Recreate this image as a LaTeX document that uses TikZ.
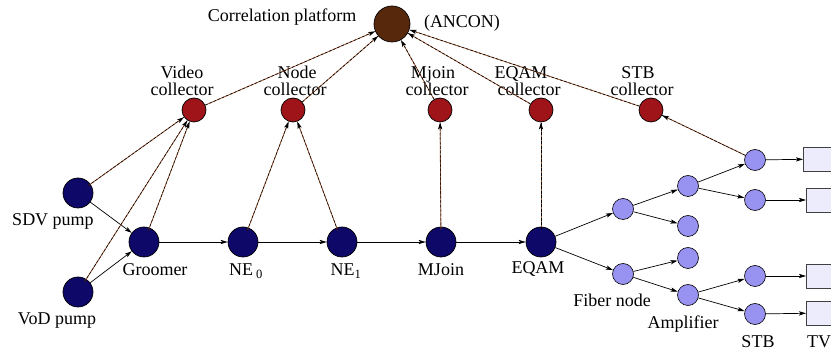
\documentclass[tikz,border=0pt]{standalone}
\usepackage{fontspec}
\setmainfont{Liberation Serif}
\usetikzlibrary{arrows.meta,calc}
\definecolor{navyn}{RGB}{14,8,105}
\definecolor{collred}{RGB}{158,20,24}
\definecolor{corrbrown}{RGB}{88,40,12}
\definecolor{lav}{RGB}{152,146,240}
\definecolor{tvfill}{RGB}{236,236,252}
\definecolor{linebrown}{RGB}{150,80,45}
\begin{document}
\begin{tikzpicture}[x=1pt,y=-1pt,
  big/.style={circle,draw=black,line width=0.7pt,fill=navyn,minimum size=30pt,inner sep=0pt},
  coll/.style={circle,draw=black,line width=0.7pt,fill=collred,minimum size=24pt,inner sep=0pt},
  corrnode/.style={circle,draw=black,line width=0.7pt,fill=corrbrown,minimum size=36pt,inner sep=0pt},
  small/.style={circle,draw=black,line width=0.6pt,fill=lav,minimum size=21pt,inner sep=0pt},
  tvbox/.style={rectangle,draw=black!75,line width=0.7pt,fill=tvfill,minimum width=40pt,minimum height=24pt,anchor=west,inner sep=0pt},
  lbl/.style={font=\fontsize{18}{20}\selectfont,inner sep=0pt,anchor=base},
  flow/.style={draw=black,line width=0.7pt,-{Stealth[length=7pt,width=4.2pt,inset=1.5pt]}},
  report/.style={draw=linebrown,line width=0.8pt,-{Stealth[length=7pt,width=4.2pt,inset=1.5pt,black]},
    postaction={draw=black,line width=0.6pt,dash pattern=on 2.5pt off 2pt,arrows=-}},
  feed/.style={draw=linebrown,line width=0.8pt,-{Stealth[length=7pt,width=4.2pt,inset=1.5pt,black]},
    postaction={draw=black,line width=0.5pt,dash pattern=on 3pt off 1.5pt,arrows=-}}]
\useasboundingbox (0,0) rectangle (831,355);
\clip (0,0) rectangle (831,355);
% nodes
\node[corrnode] (corr) at (392,24) {};
\node[coll] (cvid) at (194,110) {};
\node[coll] (cnode) at (293,110) {};
\node[coll] (cmj) at (440,110) {};
\node[coll] (ceq) at (541,110) {};
\node[coll] (cstb) at (651,110) {};
\node[big] (sdv) at (78,193) {};
\node[big] (vod) at (78,292) {};
\node[big] (groom) at (144,242) {};
\node[big] (ne0) at (243,242) {};
\node[big] (ne1) at (342,242) {};
\node[big] (mj) at (441,242) {};
\node[big] (eq) at (541,242) {};
\node[small] (f1) at (623,209) {};
\node[small] (f2) at (623,274) {};
\node[small] (a1) at (688,186) {};
\node[small] (a2) at (688,226) {};
\node[small] (a3) at (688,258) {};
\node[small] (a4) at (688,295) {};
\node[small] (s1) at (755,160) {};
\node[small] (s2) at (755,200) {};
\node[small] (s3) at (755,276) {};
\node[small] (s4) at (755,314) {};
\node[tvbox] (t1) at (803,159) {};
\node[tvbox] (t2) at (806,200) {};
\node[tvbox] (t3) at (806,276) {};
\node[tvbox] (t4) at (806,313) {};
% labels
\node[lbl] (lcorr) at (282,22) {Correlation platform};
\node[lbl] (lancon) at (462,28) {(ANCON)};
\node[lbl] (lv1) at (182,79) {Video};
\node[lbl] (lv2) at (182,96) {collector};
\node[lbl] (ln1) at (297,79) {Node};
\node[lbl] (ln2) at (295,96) {collector};
\node[lbl] (lm1) at (433,79) {Mjoin};
\node[lbl] (lm2) at (437,96) {collector};
\node[lbl] (le1) at (521,79) {EQAM};
\node[lbl] (le2) at (529,96) {collector};
\node[lbl] (ls1) at (638,79) {STB};
\node[lbl] (ls2) at (642,96) {collector};
\node[lbl] (lsdv) at (53,226) {SDV pump};
\node[lbl] (lvod) at (57,325) {VoD pump};
\node[lbl] (lgr) at (155,276) {Groomer};
\node[lbl] (lne0) at (246,276) {NE\,\textsubscript{0}};
\node[lbl] (lne1) at (346,276) {NE\textsubscript{1}};
\node[lbl] (lmj) at (441,276) {MJoin};
\node[lbl] (leq) at (538,274) {EQAM};
\node[lbl] (lfib) at (612,307) {Fiber node};
\node[lbl] (lamp) at (683,329) {Amplifier};
\node[lbl] (lstb) at (758,348) {STB};
\node[lbl,anchor=base west] (ltv) at (807,348) {TV};
% data flow
\draw[flow] (sdv) -- (groom);
\draw[flow] (vod) -- (groom);
\draw[flow] (groom) -- (ne0);
\draw[flow] (ne0) -- (ne1);
\draw[flow] (ne1) -- (mj);
\draw[flow] (mj) -- (eq);
\draw[flow] (eq) -- (f1);
\draw[flow] (eq) -- (f2);
\draw[flow] (f1) -- (a1);
\draw[flow] (f1) -- (a2);
\draw[flow] (f2) -- (a3);
\draw[flow] (f2) -- (a4);
\draw[flow] (a1) -- (s1);
\draw[flow] (a1) -- (s2);
\draw[flow] (a4) -- (s3);
\draw[flow] (a4) -- (s4);
\draw[flow] (s1) -- (t1);
\draw[flow] (s2) -- (t2);
\draw[flow] (s3) -- (t3);
\draw[flow] (s4) -- (t4);
% reports to collectors
\draw[feed] ($(sdv.center)!12pt!(cvid.center)$) -- (cvid);
\draw[feed] ($(vod.center)!12pt!(cvid.center)$) -- (cvid);
\draw[feed] ($(groom.center)!12pt!(cvid.center)$) -- (cvid);
\draw[feed] ($(ne0.center)!12pt!(cnode.center)$) -- (cnode);
\draw[feed] ($(ne1.center)!12pt!(cnode.center)$) -- (cnode);
\draw[feed] ($(mj.center)!12pt!(cmj.center)$) -- (cmj);
\draw[feed] ($(eq.center)!12pt!(ceq.center)$) -- (ceq);
\draw[feed] (s1) -- (cstb);
% collectors to correlation platform
\draw[report] (cvid) -- (corr);
\draw[report] (cnode) -- (corr);
\draw[report] (cmj) -- (corr);
\draw[report] (ceq) -- (corr);
\draw[report] (cstb) -- (corr);
\end{tikzpicture}
\end{document}
